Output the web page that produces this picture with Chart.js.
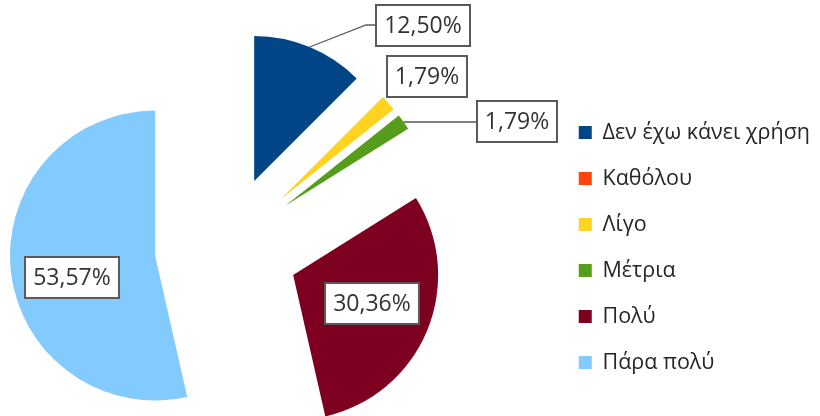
<!DOCTYPE html>
<html>
<head>
<meta charset="utf-8">
<script src="https://cdn.jsdelivr.net/npm/chart.js@4/dist/chart.umd.min.js"></script>
<style>
  html, body { margin: 0; padding: 0; background: #fff; }
  canvas { display: block; }
</style>
</head>
<body>
<canvas id="pie" width="820" height="416"></canvas>
<script>
// Κατηγορίες απαντήσεων και ποσοστά (%)
const categories = ['Δεν έχω κάνει χρήση', 'Καθόλου', 'Λίγο', 'Μέτρια', 'Πολύ', 'Πάρα πολύ'];
const percents = [12.50, 0, 1.79, 1.79, 30.36, 53.57];
const colors = ['#004586', '#ff420e', '#ffd320', '#579d1c', '#7e0021', '#83caff'];

// Απόσταση που "φεύγει" κάθε φέτα από το κέντρο, και ακτίνα
const EXPLODE = 72;
const RADIUS = 145;

// Ετικέτες: μετατόπιση από το μέσο του εξωτερικού τόξου
const labelShift = [[113, -22], null, [39, -26], [113, 0], [-55, -27], [61, 6]];
const labelLeader = [true, false, false, true, false, false];

const fmt = v => v.toFixed(2).replace('.', ',') + '%';

// Κάθε φέτα μετακινείται ολόκληρη πάνω στη διχοτόμο της
const baseDraw = Chart.ArcElement.prototype.draw;
Chart.ArcElement.prototype.draw = function (ctx) {
  const mid = (this.startAngle + this.endAngle) / 2;
  ctx.save();
  ctx.translate(Math.cos(mid) * EXPLODE, Math.sin(mid) * EXPLODE);
  baseDraw.call(this, ctx);
  ctx.restore();
};

// Ετικέτες τιμών σε κουτάκι
const boxLabels = {
  id: 'boxLabels',
  afterDatasetsDraw(chart) {
    const ctx = chart.ctx;
    const arcs = chart.getDatasetMeta(0).data;
    ctx.save();
    ctx.font = '23px "Open Sans"';
    ctx.textAlign = 'center';
    ctx.textBaseline = 'middle';
    arcs.forEach((arc, i) => {
      const shift = labelShift[i];
      if (!shift || !percents[i]) return;
      const mid = (arc.startAngle + arc.endAngle) / 2;
      const dist = EXPLODE + arc.outerRadius;
      const ox = arc.x + Math.cos(mid) * dist;
      const oy = arc.y + Math.sin(mid) * dist;
      const cx = ox + shift[0];
      const cy = oy + shift[1];
      const text = fmt(percents[i]);
      const w = Math.round(ctx.measureText(text).width + 16);
      const h = 41;
      const left = Math.round(cx - w / 2);
      const top = Math.round(cy - h / 2);
      if (labelLeader[i]) {
        ctx.strokeStyle = '#595959';
        ctx.lineWidth = 1.3;
        ctx.beginPath();
        ctx.moveTo(ox, oy);
        ctx.lineTo(left - 10, cy);
        ctx.lineTo(left, cy);
        ctx.stroke();
      }
      ctx.fillStyle = '#fff';
      ctx.fillRect(left, top, w, h);
      ctx.lineWidth = 2;
      ctx.strokeStyle = '#5a5a5a';
      ctx.strokeRect(left, top, w, h);
      ctx.fillStyle = '#333';
      ctx.fillText(text, left + w / 2, top + h / 2 + 1);
    });
    ctx.restore();
  }
};

new Chart(document.getElementById('pie'), {
  type: 'pie',
  data: {
    labels: categories,
    datasets: [{
      data: percents,
      backgroundColor: colors,
      borderWidth: 0
    }]
  },
  options: {
    responsive: false,
    animation: false,
    devicePixelRatio: 1,
    radius: RADIUS,
    layout: { padding: { top: 79 } },
    plugins: {
      tooltip: { enabled: false },
      // κενός τίτλος δεξιά: απλώς κρατά απόσταση ανάμεσα σε πίτα και υπόμνημα
      title: {
        display: true,
        text: '',
        position: 'right',
        weight: 500,
        font: { size: 10 },
        padding: { top: 89, bottom: 0 }
      },
      legend: {
        position: 'right',
        maxWidth: 320,
        labels: {
          font: { family: 'Open Sans', size: 21.5 },
          color: '#262626',
          boxWidth: 13,
          boxHeight: 13,
          padding: 24.5
        }
      }
    }
  },
  plugins: [boxLabels]
});
</script>
</body>
</html>
